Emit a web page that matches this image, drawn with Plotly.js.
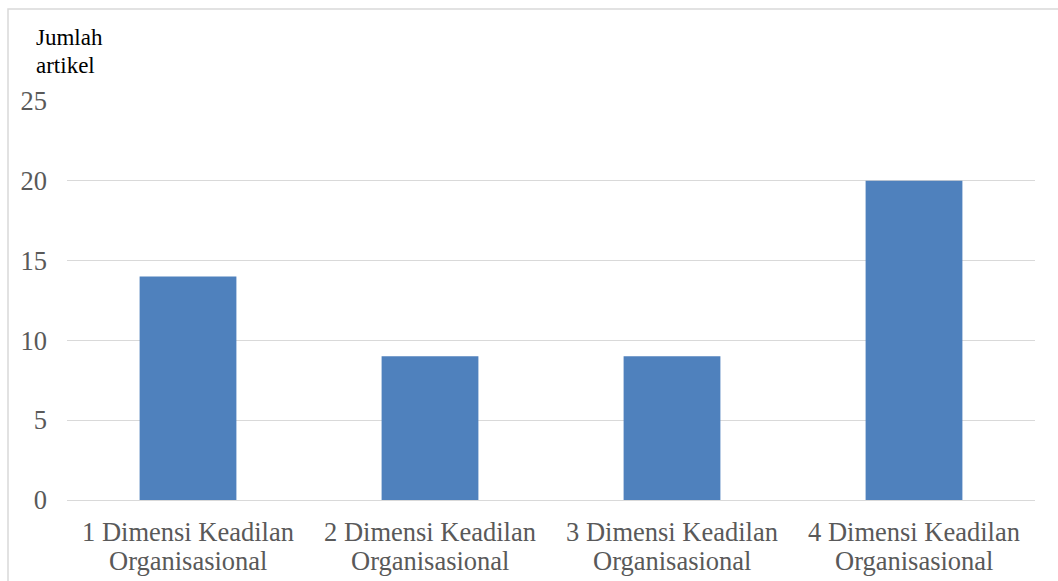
<!DOCTYPE html>
<html>
<head>
<meta charset="utf-8">
<script src="https://cdn.plot.ly/plotly-3.0.1.min.js"></script>
<style>
  html, body { margin: 0; padding: 0; background: #fff; }
  #chart { width: 1058px; height: 581px; }
</style>
</head>
<body>
<div id="chart"></div>
<script>
// Number of articles per organisational-justice dimension
const categories = [
  '1 Dimensi Keadilan Organisasional',
  '2 Dimensi Keadilan Organisasional',
  '3 Dimensi Keadilan Organisasional',
  '4 Dimensi Keadilan Organisasional'
];
const labelLine1 = ['1 Dimensi Keadilan', '2 Dimensi Keadilan', '3 Dimensi Keadilan', '4 Dimensi Keadilan'];
const labelLine2 = ['Organisasional', 'Organisasional', 'Organisasional', 'Organisasional'];
const articleCounts = [14, 9, 9, 20];
const yTickValues = [0, 5, 10, 15, 20, 25];
const yAxisCaption = ['Jumlah', 'artikel'];

const W = 1058, H = 581;
const M = { l: 67, r: 23, t: 101, b: 81 };
const plotW = W - M.l - M.r, plotH = H - M.t - M.b;
// convert pixel positions to paper coordinates for the frame and the text rows
const px = x => (x - M.l) / plotW;
const py = y => (H - M.b - y) / plotH;

const serif = '"Liberation Serif", "Times New Roman", serif';
const labelFont = { family: serif, size: 26.5, color: '#595959' };

const trace = {
  type: 'bar',
  x: categories,
  y: articleCounts,
  marker: { color: '#4f81bd' },
  width: 0.4,
  hoverinfo: 'skip'
};

// two-line category labels, drawn row by row for a tighter line spacing
const categoryLabels = [];
categories.forEach((c, i) => {
  [[labelLine1[i], 532], [labelLine2[i], 561]].forEach(([t, yPix]) => {
    categoryLabels.push({
      xref: 'x', yref: 'paper',
      x: c, y: py(yPix),
      xanchor: 'center', yanchor: 'middle',
      showarrow: false,
      text: t,
      font: labelFont
    });
  });
});

const captionLabels = yAxisCaption.map((t, i) => ({
  xref: 'paper', yref: 'paper',
  x: px(34), y: py(38 + 28 * i),
  xanchor: 'left', yanchor: 'middle',
  showarrow: false,
  text: t,
  font: { family: serif, size: 23, color: '#000000' }
}));

const layout = {
  width: W, height: H,
  margin: M,
  paper_bgcolor: '#ffffff',
  plot_bgcolor: '#ffffff',
  showlegend: false,
  font: { family: serif, color: '#595959' },
  xaxis: {
    type: 'category',
    showgrid: false,
    showline: false,
    zeroline: false,
    ticks: '',
    showticklabels: false,
    fixedrange: true
  },
  yaxis: {
    range: [0, 25],
    tickvals: yTickValues,
    ticktext: yTickValues.map(String),
    showgrid: true,
    gridcolor: '#d9d9d9',
    gridwidth: 1,
    zeroline: true,
    zerolinecolor: '#d9d9d9',
    zerolinewidth: 1,
    showline: false,
    ticks: '',
    ticklabelstandoff: 19,
    tickfont: labelFont,
    fixedrange: true
  },
  annotations: categoryLabels.concat(captionLabels),
  shapes: [{
    type: 'rect',
    xref: 'paper', yref: 'paper',
    x0: px(8), x1: px(1080),
    y0: py(620), y1: py(9),
    line: { color: '#d9d9d9', width: 1.5 },
    fillcolor: 'rgba(0,0,0,0)',
    layer: 'below'
  }]
};

Plotly.newPlot('chart', [trace], layout, { displayModeBar: false, staticPlot: true });
</script>
</body>
</html>
